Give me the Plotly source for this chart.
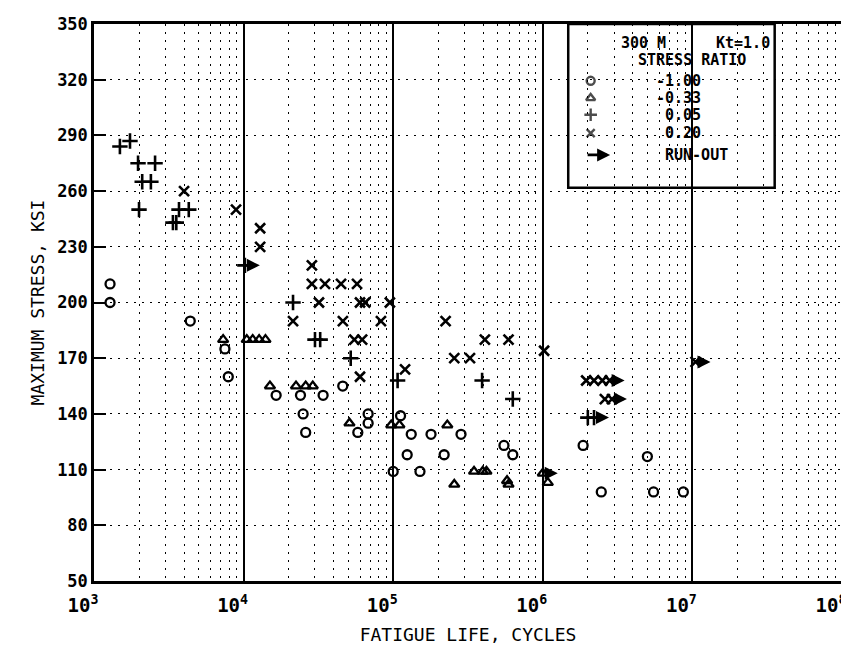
import numpy as np
import plotly.graph_objects as go

# ---------------- data ----------------
# R = -1.00 (circles)
CIRC_N = [1280, 1280, 4400, 7500, 7900, 16500, 24000, 25000, 26000, 34000, 46000,
          58000, 68000, 68000, 100000, 112000, 124000, 132000, 151000, 179000,
          219000, 284000, 550000, 630000, 1860000, 5000000, 2460000, 5500000, 8700000]
CIRC_S = [210, 200, 190, 175, 160, 150, 150, 140, 130, 150, 155,
          130, 140, 135, 109, 139, 118, 129, 109, 129,
          118, 129, 123, 118, 123, 117, 98, 98, 98]

# R = -0.33 (triangles)
TRI_N = [7300, 10500, 11500, 12700, 14000, 15000, 22400, 26000, 29000, 51000,
         97000, 110000, 230000, 256000, 347000, 397000, 420000, 577000, 590000,
         1000000, 1080000]
TRI_S = [180, 180, 180, 180, 180, 155, 155, 155, 155, 135,
         134, 134, 134, 102, 109, 109, 109, 104, 102,
         108, 103]

# R = 0.05 (plus)
PLUS_N = [1490, 1740, 1970, 2560, 2100, 2400, 2000, 3700, 4300, 3370, 3550, 10200,
          21400, 30000, 32500, 52000, 107000, 393000, 630000, 2000000, 2200000]
PLUS_S = [284, 287, 275, 275, 265, 265, 250, 250, 250, 243, 243, 220,
          200, 180, 180, 170, 158, 158, 148, 138, 138]

# R = 0.20 (cross)
X_N = [4000, 8900, 12900, 12900, 28600, 28600, 35000, 44800, 57300, 31900, 60000,
       65000, 95000, 21400, 46100, 82800, 55000, 62000, 60000, 120000, 224000,
       256000, 326000, 410000, 590000, 1020000, 1950000, 2200000, 2500000, 2800000,
       2600000, 2900000, 10500000]
X_S = [260, 250, 240, 230, 220, 210, 210, 210, 210, 200, 200,
       200, 200, 190, 190, 190, 180, 180, 160, 164, 190,
       170, 170, 180, 180, 174, 158, 158, 158, 158,
       148, 148, 168]

# run-outs (last failure-free point, stress)
RUN_N = [10200, 1000000, 2200000, 2900000, 2800000, 10500000]
RUN_S = [220, 108, 138, 148, 158, 168]

X_TICKS = [1e3, 1e4, 1e5, 1e6, 1e7, 1e8]
X_TICK_TEXT = ["10<sup>3</sup>", "10<sup>4</sup>", "10<sup>5</sup>",
               "10<sup>6</sup>", "10<sup>7</sup>", "10<sup>8</sup>"]

LEGEND_LABELS = ["-1.00", "-0.33", "0.05", "0.20"]

FONT = "DejaVu Sans Mono"
INK = "black"

fig = go.Figure()

mk = dict(color=INK, size=9, line=dict(color=INK, width=2.3))
fig.add_trace(go.Scatter(x=CIRC_N, y=CIRC_S, mode="markers",
                         marker=dict(symbol="circle-open", **mk), showlegend=False))
fig.add_trace(go.Scatter(x=TRI_N, y=TRI_S, mode="markers",
                         marker=dict(symbol="triangle-up-open", **mk), showlegend=False))
fig.add_trace(go.Scatter(x=PLUS_N, y=PLUS_S, mode="markers",
                         marker=dict(symbol="cross-thin-open", color=INK, size=11,
                                     line=dict(color=INK, width=2.6)), showlegend=False))
fig.add_trace(go.Scatter(x=X_N, y=X_S, mode="markers",
                         marker=dict(symbol="x-thin-open", color=INK, size=10,
                                     line=dict(color=INK, width=2.6)), showlegend=False))

# run-out arrows
for n, s in zip(RUN_N, RUN_S):
    fig.add_annotation(x=np.log10(n) + 0.10, y=s, ax=np.log10(n), ay=s,
                       xref="x", yref="y", axref="x", ayref="y", text="",
                       showarrow=True, arrowhead=2, arrowsize=1.0, arrowwidth=2.6,
                       arrowcolor=INK)

# ---------------- legend box ----------------
LEG_X_SYM = 0.664
LEG_X_NUM = 0.814
LEG_Y = [0.898, 0.867, 0.837, 0.804]
fig.add_shape(type="rect", xref="paper", yref="paper", x0=0.634, x1=0.910,
              y0=0.706, y1=1.0, fillcolor="white", line=dict(color=INK, width=2.5),
              layer="between")
sym_list = ["circle-open", "triangle-up-open", "cross-thin-open", "x-thin-open"]
fig.add_trace(go.Scatter(x=[LEG_X_SYM] * 4, y=LEG_Y, mode="markers", xaxis="x2", yaxis="y2",
                         marker=dict(symbol=sym_list, color=INK, size=[8, 8, 9, 8],
                                     line=dict(color=INK, width=2.4)),
                         showlegend=False, hoverinfo="skip"))
tfont = dict(family=FONT, size=15, color=INK, weight="bold")
fig.add_annotation(x=0.735, y=0.966, xref="paper", yref="paper", text="300 M",
                   showarrow=False, font=tfont, xanchor="center", yanchor="middle")
fig.add_annotation(x=0.907, y=0.966, xref="paper", yref="paper", text="Kt=1.0",
                   showarrow=False, font=tfont, xanchor="right", yanchor="middle")
fig.add_annotation(x=0.800, y=0.935, xref="paper", yref="paper", text="STRESS RATIO",
                   showarrow=False, font=tfont, xanchor="center", yanchor="middle")
for lab, yy in zip(LEGEND_LABELS, LEG_Y):
    fig.add_annotation(x=LEG_X_NUM, y=yy, xref="paper", yref="paper", text=lab,
                       showarrow=False, font=tfont, xanchor="right", yanchor="middle")
fig.add_annotation(x=0.690, y=0.765, xref="paper", yref="paper", ax=-24, ay=0, text="",
                   showarrow=True, arrowhead=2, arrowsize=1.0, arrowwidth=2.6, arrowcolor=INK)
fig.add_annotation(x=0.761, y=0.765, xref="paper", yref="paper", text="RUN-OUT",
                   showarrow=False, font=tfont, xanchor="left", yanchor="middle")

dots = "2px,6px"
fig.update_layout(
    width=849, height=649,
    margin=dict(l=86, r=15, t=16, b=76),
    paper_bgcolor="white", plot_bgcolor="white",
    font=dict(family=FONT, color=INK),
    xaxis=dict(type="log", range=[3, 8], tickvals=X_TICKS, ticktext=X_TICK_TEXT,
               tickfont=dict(family=FONT, size=19, color=INK, weight="bold"),
               ticklabeloverflow="allow", ticklabelshift=-11, ticklabelstandoff=5,
               showgrid=True, gridcolor=INK, gridwidth=2,
               minor=dict(dtick="D1", showgrid=True, gridcolor=INK, griddash=dots, gridwidth=1.2),
               showline=True, linecolor=INK, linewidth=2.5, mirror=True, ticks="",
               zeroline=False, automargin=False,
               title=dict(text="FATIGUE LIFE, CYCLES", standoff=14,
                          font=dict(family=FONT, size=18, color=INK))),
    yaxis=dict(range=[50, 350], tick0=50, dtick=30,
               tickfont=dict(family=FONT, size=17, color=INK, weight="bold"),
               showgrid=True, gridcolor=INK, griddash=dots, gridwidth=1.2,
               showline=True, linecolor=INK, linewidth=2.5, mirror=True,
               ticks="inside", ticklen=12, tickwidth=2, tickcolor=INK, zeroline=False,
               automargin=False,
               title=dict(text="MAXIMUM STRESS, KSI", standoff=8,
                          font=dict(family=FONT, size=18, color=INK))),
    xaxis2=dict(overlaying="x", range=[0, 1], visible=False, side="top"),
    yaxis2=dict(overlaying="y", range=[0, 1], visible=False, side="right"),
)

fig.write_html("out.html")
